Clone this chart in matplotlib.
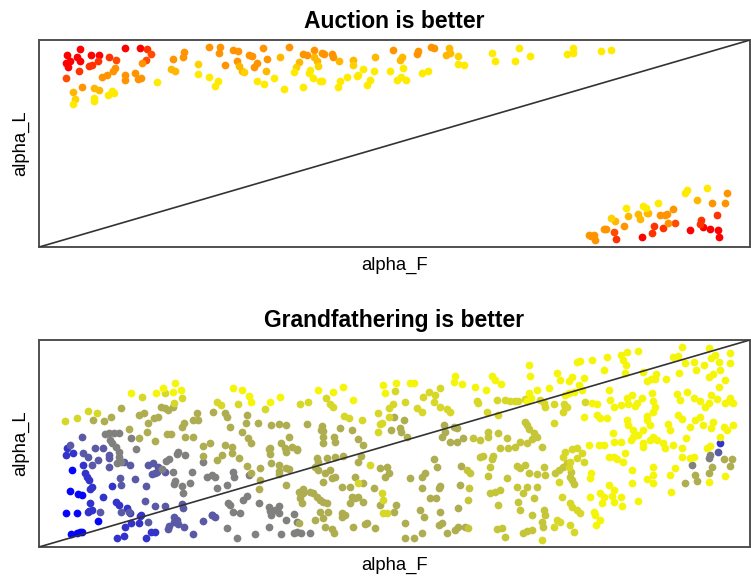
import matplotlib
matplotlib.use("Agg")
import matplotlib.pyplot as plt
from matplotlib.colors import LinearSegmentedColormap

plt.rcParams['font.family'] = ['Liberation Sans', 'DejaVu Sans']

# ---------- panel 1: "Auction is better"  (alpha_F, alpha_L) points grouped by shade ----------
top_red = [(0.057, 0.957), (0.040, 0.929), (0.038, 0.889), (0.043, 0.900), (0.054, 0.916), (0.057, 0.897),
           (0.041, 0.868), (0.073, 0.926), (0.085, 0.929), (0.121, 0.961), (0.142, 0.961), (0.848, 0.047),
           (0.934, 0.095), (0.944, 0.088), (0.916, 0.084), (0.955, 0.084), (0.956, 0.047)]
top_redorange = [(0.056, 0.850), (0.074, 0.881), (0.083, 0.900), (0.071, 0.874), (0.098, 0.916), (0.152, 0.958),
                 (0.812, 0.040), (0.865, 0.100), (0.862, 0.068), (0.877, 0.092), (0.953, 0.156), (0.931, 0.132),
                 (0.930, 0.111)]
top_orangered = [(0.109, 0.905), (0.157, 0.934), (0.150, 0.905), (0.038, 0.816), (0.808, 0.071), (0.894, 0.116)]
top_orange = [(0.107, 0.865), (0.104, 0.849), (0.095, 0.833), (0.089, 0.820), (0.145, 0.889), (0.121, 0.829),
              (0.121, 0.808), (0.135, 0.841), (0.143, 0.816), (0.139, 0.812), (0.060, 0.771), (0.188, 0.910),
              (0.204, 0.942), (0.203, 0.916), (0.239, 0.966), (0.254, 0.965), (0.253, 0.937), (0.261, 0.878),
              (0.273, 0.953), (0.280, 0.948), (0.278, 0.897), (0.295, 0.929), (0.299, 0.921), (0.306, 0.889),
              (0.303, 0.868), (0.315, 0.961), (0.320, 0.910), (0.351, 0.966), (0.372, 0.934), (0.377, 0.926),
              (0.387, 0.953), (0.398, 0.937), (0.401, 0.932), (0.412, 0.934), (0.413, 0.916), (0.498, 0.953),
              (0.533, 0.945), (0.532, 0.932), (0.552, 0.966), (0.556, 0.961),
              (0.773, 0.059), (0.777, 0.052), (0.782, 0.035), (0.780, 0.059), (0.794, 0.088), (0.798, 0.088),
              (0.823, 0.100), (0.873, 0.153), (0.880, 0.153), (0.883, 0.159), (0.884, 0.116), (0.892, 0.184),
              (0.947, 0.213), (0.965, 0.213), (0.968, 0.261)]
top_orangeyellow = [(0.048, 0.747), (0.078, 0.768), (0.084, 0.760), (0.186, 0.860), (0.191, 0.849), (0.282, 0.873),
                    (0.285, 0.849), (0.319, 0.849), (0.339, 0.916), (0.366, 0.894), (0.387, 0.916), (0.391, 0.897),
                    (0.422, 0.900), (0.441, 0.905), (0.473, 0.916), (0.510, 0.916), (0.508, 0.902), (0.576, 0.961),
                    (0.578, 0.937), (0.572, 0.929),
                    (0.810, 0.124), (0.829, 0.151), (0.843, 0.159), (0.845, 0.137), (0.855, 0.164), (0.857, 0.164),
                    (0.926, 0.227)]
top_yelloworange = [(0.050, 0.717), (0.224, 0.884), (0.289, 0.844), (0.362, 0.868), (0.392, 0.873), (0.442, 0.881),
                    (0.589, 0.921), (0.805, 0.140)]
top_yellow = [(0.048, 0.691), (0.077, 0.720), (0.078, 0.704), (0.097, 0.736), (0.103, 0.752), (0.106, 0.744),
              (0.166, 0.796), (0.224, 0.836), (0.239, 0.820), (0.252, 0.801), (0.247, 0.776), (0.331, 0.816),
              (0.306, 0.801), (0.317, 0.787), (0.345, 0.763), (0.359, 0.845), (0.381, 0.857), (0.380, 0.841),
              (0.386, 0.816), (0.395, 0.801), (0.398, 0.801), (0.372, 0.771), (0.456, 0.861), (0.449, 0.833),
              (0.447, 0.825), (0.433, 0.821), (0.423, 0.801), (0.420, 0.771), (0.465, 0.805), (0.461, 0.784),
              (0.471, 0.849), (0.512, 0.865), (0.494, 0.852), (0.503, 0.808), (0.509, 0.820), (0.516, 0.805),
              (0.538, 0.841), (0.547, 0.852), (0.589, 0.884), (0.598, 0.878), (0.637, 0.937), (0.641, 0.900),
              (0.669, 0.900), (0.675, 0.961), (0.690, 0.921), (0.742, 0.932), (0.751, 0.937), (0.751, 0.961),
              (0.790, 0.948), (0.804, 0.953),
              (0.826, 0.188), (0.850, 0.197), (0.854, 0.188), (0.871, 0.213), (0.909, 0.261), (0.911, 0.277),
              (0.939, 0.285)]
# shade of each group on the red -> yellow scale
top_levels = [0.0, 0.2, 0.3, 0.58, 0.72, 0.82, 0.92]

# ---------- panel 2: "Grandfathering is better" ----------
bot_blue = [(0.046, 0.372), (0.044, 0.270), (0.055, 0.256), (0.060, 0.251), (0.038, 0.166), (0.054, 0.166),
            (0.045, 0.063), (0.054, 0.069), (0.058, 0.074), (0.061, 0.071), (0.083, 0.127)]
bot_bluepurple = [(0.040, 0.477), (0.038, 0.444), (0.048, 0.456), (0.062, 0.396), (0.065, 0.356), (0.067, 0.340),
                  (0.071, 0.324), (0.102, 0.295), (0.072, 0.279), (0.074, 0.291), (0.072, 0.214), (0.069, 0.171),
                  (0.074, 0.179), (0.090, 0.243), (0.109, 0.219), (0.112, 0.203), (0.124, 0.187), (0.128, 0.163),
                  (0.142, 0.150), (0.071, 0.176), (0.110, 0.042), (0.120, 0.055), (0.121, 0.098), (0.129, 0.118),
                  (0.140, 0.114), (0.144, 0.155), (0.157, 0.074), (0.151, 0.042), (0.163, 0.074), (0.958, 0.501)]
bot_slate = [(0.060, 0.530), (0.044, 0.493), (0.062, 0.456), (0.069, 0.433), (0.079, 0.477), (0.090, 0.477),
             (0.098, 0.444), (0.099, 0.428), (0.120, 0.412), (0.128, 0.396), (0.154, 0.396), (0.161, 0.407),
             (0.167, 0.385), (0.163, 0.359), (0.074, 0.396), (0.083, 0.420), (0.098, 0.385), (0.114, 0.332),
             (0.116, 0.299), (0.135, 0.328), (0.151, 0.295), (0.159, 0.353), (0.166, 0.364), (0.177, 0.364),
             (0.086, 0.171), (0.116, 0.171), (0.127, 0.171), (0.149, 0.224), (0.163, 0.198), (0.177, 0.198),
             (0.201, 0.208), (0.202, 0.187), (0.190, 0.147), (0.244, 0.155), (0.248, 0.143), (0.154, 0.122),
             (0.181, 0.085), (0.183, 0.101), (0.190, 0.122), (0.194, 0.130), (0.196, 0.111), (0.204, 0.098),
             (0.217, 0.063), (0.231, 0.127), (0.243, 0.155), (0.955, 0.461)]
bot_grey = [(0.093, 0.546), (0.098, 0.549), (0.105, 0.549), (0.112, 0.552), (0.130, 0.525), (0.100, 0.517),
            (0.102, 0.501), (0.108, 0.485), (0.112, 0.461), (0.113, 0.436), (0.115, 0.412), (0.110, 0.404),
            (0.137, 0.472), (0.179, 0.415), (0.183, 0.423), (0.173, 0.377), (0.194, 0.449), (0.196, 0.461),
            (0.206, 0.444), (0.231, 0.412), (0.189, 0.361), (0.192, 0.320), (0.190, 0.304), (0.201, 0.295),
            (0.215, 0.364), (0.212, 0.308), (0.236, 0.340), (0.243, 0.348), (0.248, 0.340), (0.250, 0.287),
            (0.264, 0.299), (0.273, 0.364), (0.274, 0.340), (0.295, 0.348), (0.202, 0.259), (0.266, 0.214),
            (0.269, 0.203), (0.273, 0.171), (0.283, 0.166), (0.287, 0.227), (0.293, 0.246), (0.309, 0.211),
            (0.324, 0.192), (0.325, 0.174), (0.332, 0.179), (0.337, 0.198), (0.337, 0.163), (0.327, 0.155),
            (0.358, 0.158), (0.264, 0.093), (0.278, 0.042), (0.304, 0.063), (0.323, 0.095), (0.341, 0.063),
            (0.358, 0.069), (0.363, 0.074), (0.368, 0.066), (0.381, 0.069), (0.348, 0.130), (0.363, 0.122),
            (0.944, 0.444), (0.942, 0.428), (0.918, 0.396)]
bot_olive = [(0.076, 0.614), (0.091, 0.610), (0.101, 0.626), (0.116, 0.670), (0.140, 0.638), (0.148, 0.646),
             (0.154, 0.601), (0.162, 0.622), (0.168, 0.626), (0.171, 0.675), (0.177, 0.670), (0.182, 0.662),
             (0.189, 0.675), (0.201, 0.581), (0.204, 0.597), (0.216, 0.614), (0.222, 0.649), (0.224, 0.614),
             (0.245, 0.654), (0.262, 0.649), (0.264, 0.626), (0.268, 0.581), (0.291, 0.601), (0.292, 0.638),
             (0.308, 0.597), (0.327, 0.589), (0.337, 0.593), (0.348, 0.589), (0.377, 0.593), (0.398, 0.585),
             (0.400, 0.560), (0.126, 0.568), (0.140, 0.525), (0.152, 0.557), (0.163, 0.512), (0.180, 0.546),
             (0.185, 0.546), (0.205, 0.530), (0.216, 0.530), (0.230, 0.490), (0.241, 0.501), (0.261, 0.493),
             (0.271, 0.485), (0.285, 0.557), (0.294, 0.525), (0.298, 0.504), (0.325, 0.477), (0.341, 0.501),
             (0.352, 0.533), (0.356, 0.485), (0.363, 0.469), (0.397, 0.565), (0.400, 0.533), (0.400, 0.501),
             (0.415, 0.533), (0.424, 0.573), (0.416, 0.509), (0.440, 0.565), (0.449, 0.520), (0.456, 0.493),
             (0.230, 0.440), (0.250, 0.420), (0.258, 0.444), (0.271, 0.456), (0.282, 0.432), (0.292, 0.391),
             (0.311, 0.380), (0.324, 0.472), (0.325, 0.449), (0.346, 0.477), (0.348, 0.461), (0.363, 0.472),
             (0.327, 0.407), (0.337, 0.396), (0.348, 0.380), (0.351, 0.375), (0.391, 0.432), (0.393, 0.412),
             (0.405, 0.428), (0.416, 0.436), (0.427, 0.440), (0.448, 0.412), (0.453, 0.440), (0.480, 0.380),
             (0.489, 0.385), (0.298, 0.359), (0.311, 0.324), (0.309, 0.279), (0.337, 0.353), (0.338, 0.369),
             (0.348, 0.299), (0.365, 0.267), (0.372, 0.279), (0.388, 0.388), (0.393, 0.372), (0.400, 0.316),
             (0.402, 0.356), (0.409, 0.372), (0.412, 0.332), (0.416, 0.340), (0.426, 0.288), (0.438, 0.291),
             (0.445, 0.340), (0.456, 0.308), (0.471, 0.283), (0.487, 0.340), (0.492, 0.356), (0.370, 0.211),
             (0.367, 0.235), (0.372, 0.259), (0.381, 0.267), (0.386, 0.259), (0.391, 0.243), (0.395, 0.227),
             (0.400, 0.219), (0.405, 0.211), (0.395, 0.171), (0.407, 0.171), (0.426, 0.163), (0.431, 0.155),
             (0.440, 0.243), (0.445, 0.235), (0.438, 0.211), (0.449, 0.243), (0.456, 0.219), (0.480, 0.203),
             (0.365, 0.118), (0.388, 0.130), (0.400, 0.138), (0.402, 0.095), (0.412, 0.085), (0.415, 0.069),
             (0.426, 0.147), (0.442, 0.095), (0.459, 0.111), (0.461, 0.118), (0.473, 0.090),
             (0.499, 0.626), (0.495, 0.565), (0.513, 0.614), (0.508, 0.573), (0.509, 0.557), (0.517, 0.533),
             (0.569, 0.589), (0.571, 0.557), (0.567, 0.533), (0.583, 0.581), (0.588, 0.573), (0.588, 0.509),
             (0.578, 0.509), (0.597, 0.525), (0.502, 0.203), (0.499, 0.171), (0.522, 0.332), (0.538, 0.340),
             (0.543, 0.356), (0.555, 0.423), (0.560, 0.388), (0.564, 0.295), (0.562, 0.283), (0.559, 0.235),
             (0.564, 0.171), (0.550, 0.235), (0.538, 0.283), (0.536, 0.179), (0.541, 0.147), (0.594, 0.391),
             (0.592, 0.299), (0.589, 0.187), (0.515, 0.114), (0.515, 0.042), (0.527, 0.042), (0.538, 0.066),
             (0.562, 0.106), (0.567, 0.118), (0.574, 0.066), (0.585, 0.082), (0.590, 0.095), (0.599, 0.098),
             (0.963, 0.423), (0.974, 0.423), (0.972, 0.391), (0.946, 0.388), (0.923, 0.348), (0.925, 0.320),
             (0.942, 0.356), (0.908, 0.308)]
bot_olive2 = [(0.611, 0.525), (0.620, 0.517), (0.632, 0.557), (0.632, 0.530), (0.646, 0.549), (0.658, 0.525),
              (0.648, 0.477), (0.660, 0.477), (0.670, 0.485), (0.677, 0.509), (0.686, 0.501), (0.686, 0.589),
              (0.683, 0.605), (0.689, 0.568), (0.696, 0.549), (0.700, 0.533), (0.693, 0.520), (0.707, 0.481),
              (0.602, 0.372), (0.606, 0.356), (0.605, 0.283), (0.604, 0.227), (0.620, 0.436), (0.625, 0.440),
              (0.637, 0.423), (0.639, 0.440), (0.635, 0.388), (0.632, 0.343), (0.635, 0.259), (0.642, 0.267),
              (0.649, 0.275), (0.646, 0.203), (0.658, 0.332), (0.672, 0.391), (0.677, 0.380), (0.684, 0.396),
              (0.689, 0.356), (0.700, 0.353), (0.710, 0.388), (0.712, 0.348), (0.700, 0.291), (0.696, 0.235),
              (0.681, 0.259), (0.672, 0.291), (0.674, 0.219), (0.677, 0.179), (0.686, 0.291), (0.710, 0.179),
              (0.712, 0.155), (0.693, 0.155), (0.726, 0.356), (0.731, 0.372), (0.737, 0.385), (0.742, 0.404),
              (0.748, 0.364), (0.749, 0.324), (0.752, 0.304), (0.747, 0.340), (0.604, 0.090), (0.644, 0.085),
              (0.651, 0.090), (0.656, 0.050), (0.681, 0.066), (0.686, 0.077), (0.693, 0.082), (0.707, 0.122),
              (0.709, 0.098)]
bot_oliveyellow = [(0.177, 0.746), (0.145, 0.726), (0.201, 0.718), (0.190, 0.697), (0.251, 0.702), (0.256, 0.686),
                   (0.280, 0.689), (0.367, 0.691), (0.379, 0.702), (0.404, 0.718), (0.409, 0.691), (0.413, 0.678),
                   (0.492, 0.670), (0.037, 0.609), (0.054, 0.622), (0.069, 0.657), (0.082, 0.649), (0.318, 0.667),
                   (0.429, 0.633), (0.436, 0.622), (0.454, 0.614), (0.477, 0.646), (0.482, 0.597), (0.492, 0.626),
                   (0.477, 0.557), (0.480, 0.594), (0.466, 0.396), (0.449, 0.308), (0.482, 0.259), (0.484, 0.227),
                   (0.489, 0.163), (0.484, 0.166),
                   (0.644, 0.710), (0.656, 0.710), (0.663, 0.707), (0.670, 0.705), (0.673, 0.707), (0.684, 0.713),
                   (0.705, 0.710), (0.710, 0.697), (0.712, 0.678), (0.724, 0.691), (0.738, 0.691), (0.742, 0.675),
                   (0.768, 0.702), (0.549, 0.750), (0.557, 0.734), (0.564, 0.767), (0.555, 0.702), (0.540, 0.726),
                   (0.501, 0.754), (0.498, 0.691), (0.616, 0.705), (0.618, 0.697), (0.630, 0.654), (0.515, 0.702),
                   (0.531, 0.670), (0.538, 0.654), (0.564, 0.678), (0.574, 0.667), (0.578, 0.654), (0.646, 0.638),
                   (0.724, 0.601), (0.737, 0.654), (0.740, 0.678), (0.757, 0.477), (0.749, 0.472), (0.740, 0.461),
                   (0.737, 0.436), (0.764, 0.452), (0.766, 0.412), (0.757, 0.428), (0.747, 0.412), (0.745, 0.388),
                   (0.731, 0.316), (0.735, 0.243), (0.747, 0.211), (0.749, 0.195), (0.757, 0.179), (0.761, 0.163),
                   (0.733, 0.122), (0.747, 0.106), (0.752, 0.074), (0.707, 0.034), (0.724, 0.098), (0.728, 0.130)]
bot_yellow = [(0.192, 0.794), (0.174, 0.767), (0.165, 0.746), (0.188, 0.750), (0.200, 0.758), (0.129, 0.742),
              (0.273, 0.767), (0.286, 0.758), (0.296, 0.729), (0.298, 0.702), (0.325, 0.702), (0.339, 0.726),
              (0.393, 0.758), (0.414, 0.747), (0.427, 0.771), (0.441, 0.710), (0.484, 0.783), (0.487, 0.742),
              (0.904, 0.965), (0.942, 0.960), (0.972, 0.936), (0.972, 0.887), (0.843, 0.947), (0.827, 0.944),
              (0.818, 0.928), (0.822, 0.903), (0.826, 0.879), (0.799, 0.916), (0.778, 0.903), (0.761, 0.900),
              (0.756, 0.895), (0.794, 0.855), (0.824, 0.839), (0.850, 0.847), (0.892, 0.916), (0.899, 0.923),
              (0.909, 0.887), (0.921, 0.895), (0.935, 0.879), (0.945, 0.911), (0.951, 0.928), (0.956, 0.895),
              (0.958, 0.855), (0.948, 0.834), (0.942, 0.823), (0.924, 0.855), (0.900, 0.842), (0.882, 0.810),
              (0.868, 0.834), (0.861, 0.810), (0.855, 0.804), (0.866, 0.812), (0.965, 0.807), (0.956, 0.771),
              (0.972, 0.718), (0.970, 0.705), (0.965, 0.697), (0.945, 0.734), (0.953, 0.713), (0.911, 0.750),
              (0.897, 0.739), (0.902, 0.710), (0.921, 0.718), (0.930, 0.705), (0.937, 0.675), (0.942, 0.697),
              (0.976, 0.697), (0.689, 0.879), (0.691, 0.828), (0.728, 0.842), (0.733, 0.807), (0.749, 0.823),
              (0.746, 0.804), (0.766, 0.815), (0.760, 0.783), (0.764, 0.758), (0.752, 0.750), (0.745, 0.742),
              (0.740, 0.734), (0.717, 0.767), (0.700, 0.758), (0.689, 0.742), (0.686, 0.707), (0.692, 0.718),
              (0.585, 0.828), (0.584, 0.799), (0.595, 0.786), (0.637, 0.828), (0.642, 0.807), (0.650, 0.787),
              (0.613, 0.771), (0.628, 0.758), (0.778, 0.694), (0.785, 0.691), (0.802, 0.758), (0.803, 0.710),
              (0.808, 0.675), (0.818, 0.686), (0.827, 0.718), (0.829, 0.691), (0.834, 0.734), (0.838, 0.681),
              (0.841, 0.694), (0.848, 0.718), (0.862, 0.746), (0.864, 0.707), (0.867, 0.678), (0.863, 0.654),
              (0.855, 0.633), (0.855, 0.614), (0.859, 0.589), (0.860, 0.517), (0.850, 0.565), (0.527, 0.794),
              (0.522, 0.791), (0.502, 0.791), (0.766, 0.630), (0.785, 0.638), (0.789, 0.622), (0.799, 0.622),
              (0.807, 0.549), (0.808, 0.509), (0.818, 0.509), (0.795, 0.493), (0.787, 0.493), (0.773, 0.493),
              (0.827, 0.614), (0.829, 0.589), (0.836, 0.565), (0.832, 0.517), (0.836, 0.533), (0.842, 0.541),
              (0.849, 0.501), (0.850, 0.485), (0.864, 0.533), (0.869, 0.517), (0.878, 0.501), (0.881, 0.477),
              (0.888, 0.565), (0.885, 0.594), (0.899, 0.638), (0.904, 0.617), (0.892, 0.493), (0.904, 0.477),
              (0.910, 0.525), (0.916, 0.581), (0.923, 0.614), (0.930, 0.626), (0.934, 0.589), (0.945, 0.573),
              (0.948, 0.605), (0.963, 0.581), (0.967, 0.565), (0.976, 0.589), (0.958, 0.533), (0.944, 0.488),
              (0.939, 0.477), (0.921, 0.436), (0.916, 0.428), (0.904, 0.436), (0.965, 0.343), (0.942, 0.316),
              (0.888, 0.348), (0.895, 0.380), (0.864, 0.388), (0.863, 0.348), (0.864, 0.308), (0.855, 0.328),
              (0.834, 0.372), (0.834, 0.308), (0.822, 0.412), (0.824, 0.452), (0.801, 0.436), (0.808, 0.436),
              (0.813, 0.425), (0.775, 0.243), (0.780, 0.171), (0.782, 0.155), (0.789, 0.130), (0.784, 0.106),
              (0.789, 0.259), (0.792, 0.211), (0.794, 0.243), (0.801, 0.299), (0.806, 0.246), (0.808, 0.219),
              (0.818, 0.243), (0.820, 0.200), (0.808, 0.275), (0.842, 0.224), (0.889, 0.267), (0.775, 0.332),
              (0.776, 0.356)]
# shade of each group on the blue -> yellow scale
bot_levels = [0.02, 0.2, 0.35, 0.5, 0.68, 0.77, 0.84, 0.96]

top_groups = [top_red, top_redorange, top_orangered, top_orange, top_orangeyellow, top_yelloworange, top_yellow]
bot_groups = [bot_blue, bot_bluepurple, bot_slate, bot_grey, bot_olive, bot_olive2, bot_oliveyellow, bot_yellow]

heat = LinearSegmentedColormap.from_list("heat", ["#ff0000", "#ffff00"])
blue_yellow = LinearSegmentedColormap.from_list("blue_yellow", ["#0000ff", "#ffff00"])


def panel(ax, groups, levels, cmap, title):
    # puntos de cada grupo de color
    for pts, lev in zip(groups, levels):
        xs = [p[0] for p in pts]
        ys = [p[1] for p in pts]
        ax.scatter(xs, ys, s=31, color=cmap(lev), linewidths=0, zorder=2)
    # diagonal alpha_L = alpha_F
    ax.plot([0, 1], [0, 1], color="#333333", lw=1.2, zorder=3)
    ax.set_xlim(0, 1)
    ax.set_ylim(0, 1)
    ax.set_xticks([])
    ax.set_yticks([])
    for sp in ax.spines.values():
        sp.set_color("#505050")
        sp.set_linewidth(1.4)
    ax.set_title(title, fontsize=16.5, fontweight="bold", pad=9)
    ax.set_xlabel("alpha_F", fontsize=13.3, labelpad=7)
    ax.set_ylabel("alpha_L", fontsize=13.3, labelpad=7)


fig = plt.figure(figsize=(7.51, 5.80), dpi=100)
ax1 = fig.add_axes([0.0519, 0.574, 0.9468, 0.357])
ax2 = fig.add_axes([0.0519, 0.0569, 0.9468, 0.357])

panel(ax1, top_groups, top_levels, heat, "Auction is better")
panel(ax2, bot_groups, bot_levels, blue_yellow, "Grandfathering is better")

fig.savefig("out.png", dpi=100)
